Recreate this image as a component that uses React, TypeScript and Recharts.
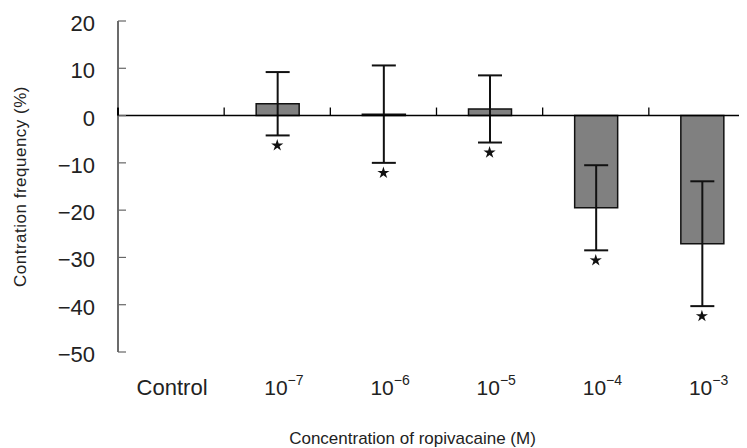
import React from 'react';
import { ComposedChart, Bar, Line, XAxis, YAxis, ErrorBar, ReferenceLine, Label } from 'recharts';

const categories = ['Control', '10^-7', '10^-6', '10^-5', '10^-4', '10^-3'];
const means: (number | null)[] = [null, 2.5, 0.3, 1.4, -19.5, -27.1];
const errors: (number | null)[] = [null, 6.7, 10.3, 7.1, 9.0, 13.2];
const yTicks = [-50, -40, -30, -20, -10, 0, 10, 20];

const data = categories.map((c, i) => ({
  cat: c,
  mean: means[i],
  err: errors[i],
  star: means[i] == null || errors[i] == null ? null : (means[i] as number) - (errors[i] as number),
}));

// category boundaries expressed on an index axis spanning [0, n-1]
const nCat = categories.length;
const boundaryPositions = Array.from({ length: nCat + 1 }, (_, k) => (k * (nCat - 1)) / nCat);

const FONT = '"Liberation Sans", Arial, sans-serif';
const TEXT = '#222';

const fmt = (v: number) => (v < 0 ? '\u2212' + Math.abs(v) : String(v));

const XTick = (props: any) => {
  const { x, y, payload } = props;
  const v = String(payload.value);
  const baseY = y + 43;
  if (v.includes('^')) {
    const [base, exp] = v.split('^');
    return (
      <text x={x - 13} y={baseY} fontSize={21} fill={TEXT} fontFamily={FONT}>
        <tspan>{base}</tspan>
        <tspan dy={-10} fontSize={14}>{exp.replace('-', '\u2212')}</tspan>
      </text>
    );
  }
  return (
    <text x={x + 1} y={baseY} textAnchor="middle" fontSize={22} fill={TEXT} fontFamily={FONT}>
      {v}
    </text>
  );
};

const YTick = (props: any) => {
  const { x, y, payload } = props;
  return (
    <g>
      <line x1={x + 23} x2={x + 31} y1={y} y2={y} stroke="#666" strokeWidth={1.2} />
      {payload.value === 0 && <rect x={x + 22} y={y - 8} width={2} height={8} fill="#000" />}
      <text x={x} y={y} dy={10} textAnchor="end" fontSize={22} fill={TEXT} fontFamily={FONT}>
        {fmt(payload.value)}
      </text>
    </g>
  );
};

const StarMark = ({ cx, cy }: { cx: number; cy: number }) => {
  const pts: string[] = [];
  const R = 6.4;
  const r = 2.4;
  for (let k = 0; k < 10; k++) {
    const ang = -Math.PI / 2 + (k * Math.PI) / 5;
    const rad = k % 2 === 0 ? R : r;
    pts.push(`${cx + rad * Math.cos(ang)},${cy + rad * Math.sin(ang)}`);
  }
  return <polygon points={pts.join(' ')} fill="#111" />;
};

export default function App() {
  return (
    <div style={{ width: 739, overflow: 'hidden', fontFamily: FONT }}>
      <ComposedChart
        width={747}
        height={440}
        data={data}
        margin={{ top: 13, right: 0, bottom: 0, left: 0 }}
      >
        <XAxis
          dataKey="cat"
          type="category"
          axisLine={false}
          tickLine={false}
          tickSize={0}
          tickMargin={0}
          height={96}
          tick={<XTick />}
          interval={0}
        >
          <Label
            value="Concentration of ropivacaine (M)"
            position="insideBottom"
            offset={4}
            dx={-24}
            fontSize={17}
            fill={TEXT}
            fontFamily={FONT}
          />
        </XAxis>
        <XAxis xAxisId="num" type="number" domain={[0, nCat - 1]} hide />
        <YAxis
          type="number"
          domain={[-50, 20]}
          ticks={yTicks}
          interval={0}
          width={110}
          axisLine={{ stroke: '#6b6b6b', strokeWidth: 2 }}
          tickLine={false}
          tickSize={0}
          tickMargin={23}
          tick={<YTick />}
        >
          <Label
            value="Contration frequency (%)"
            position="insideLeft"
            angle={-90}
            offset={10}
            dx={2}
            fontSize={17}
            fill={TEXT}
            fontFamily={FONT}
            style={{ textAnchor: 'middle', letterSpacing: 0.5 }}
          />
        </YAxis>
        <Bar
          dataKey="mean"
          fill="#808080"
          stroke="#111"
          strokeWidth={1.5}
          barSize={43}
          isAnimationActive={false}
        >
          <ErrorBar dataKey="err" width={12} strokeWidth={2} stroke="#111" direction="y" />
        </Bar>
        <ReferenceLine y={0} stroke="#000" strokeWidth={1.5} />
        {boundaryPositions.map((b, k) => (
          <ReferenceLine
            key={k}
            xAxisId="num"
            segment={[
              { x: b, y: 0 },
              { x: b, y: 1.7 },
            ]}
            stroke="#000"
            strokeWidth={1.3}
            ifOverflow="visible"
          />
        ))}
        <Line
          dataKey="star"
          stroke="none"
          isAnimationActive={false}
          activeDot={false}
          legendType="none"
          dot={(p: any) => {
            if (p.cx == null || p.cy == null || p.value == null) return <g key={p.index} />;
            return <StarMark key={p.index} cx={p.cx} cy={p.cy + 10} />;
          }}
        />
      </ComposedChart>
    </div>
  );
}
